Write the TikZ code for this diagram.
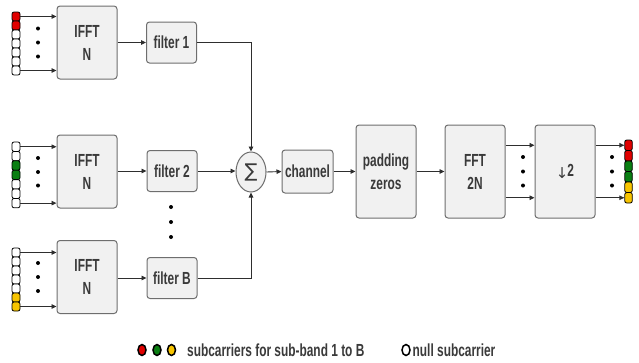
\documentclass[tikz,border=0pt]{standalone}
\usepackage{fontspec}
\setmainfont[FakeStretch=0.68]{Liberation Sans}
\newfontfamily\symfont{DejaVu Sans}
\usetikzlibrary{arrows.meta,shapes.geometric}
\definecolor{txt}{HTML}{3A3A3A}
\definecolor{bordc}{HTML}{6E6E6E}
\definecolor{boxf}{HTML}{F1F1F1}
\definecolor{linec}{HTML}{2E2E2E}
\definecolor{sred}{HTML}{E00000}
\definecolor{sgreen}{HTML}{0A7E12}
\definecolor{syellow}{HTML}{F7C400}
\begin{document}
\begin{tikzpicture}[x=1pt,y=-1pt,
  blk/.style={draw=bordc, fill=boxf, rounded corners=3pt, line width=1pt, text=txt,
    font=\fontsize{17.5}{23}\selectfont\bfseries, align=center, inner sep=0pt},
  arr/.style={-{Triangle[length=5pt,width=4.5pt]}, line width=0.9pt, draw=linec},
  cell/.style={draw=black, line width=0.8pt, rounded corners=2pt, minimum width=8pt,
    minimum height=9pt, inner sep=0pt},
  dotn/.style={circle, fill=black, inner sep=0pt, minimum size=4pt},
  leg/.style={ellipse, draw=black, line width=1.5pt, minimum width=8pt, minimum height=11pt, inner sep=0pt},
  legt/.style={anchor=west, text=txt, font=\fontsize{17.5}{19}\selectfont\bfseries, inner sep=0pt}]
\useasboundingbox (0,0) rectangle (639,362);

% IFFT blocks
\node[blk, minimum width=60pt, minimum height=73pt] (i1) at (87,42.5) {IFFT\\N};
\node[blk, minimum width=60pt, minimum height=73pt] (i2) at (87,171.5) {IFFT\\N};
\node[blk, minimum width=60pt, minimum height=73pt] (i3) at (87,277) {IFFT\\N};

% subcarrier columns
\foreach \c [count=\i] in {sred,sred,white,white,white,white,white}
  \node[cell, fill=\c] (a\i) at (16,{7.5+9*\i}) {};
\foreach \c [count=\i] in {white,white,sgreen,sgreen,white,white,white}
  \node[cell, fill=\c, minimum height=9.4pt] (b\i) at (16,{137.3+9.4*\i}) {};
\foreach \c [count=\i] in {white,white,white,white,white,syellow,syellow}
  \node[cell, fill=\c] (c\i) at (16,{243.5+9*\i}) {};

\draw[arr] (a1.east) -- (a1.east -| i1.west);
\draw[arr] (a7.east) -- (a7.east -| i1.west);
\draw[arr] (b1.east) -- (b1.east -| i2.west);
\draw[arr] (b7.east) -- (b7.east -| i2.west);
\draw[arr] (c1.east) -- (c1.east -| i3.west);
\draw[arr] (c7.east) -- (c7.east -| i3.west);

\foreach \y in {28.5,42.5,56.5} \node[dotn] at (38,\y) {};
\foreach \y in {158,172,185.5} \node[dotn] at (38,\y) {};
\foreach \y in {263,277,291} \node[dotn] at (38,\y) {};

% filters
\node[blk, minimum width=50pt, minimum height=41pt] (f1) at (171.5,42.5) {filter 1};
\node[blk, minimum width=50pt, minimum height=41pt] (f2) at (172,171) {filter 2};
\node[blk, minimum width=50pt, minimum height=41pt] (f3) at (172,278) {filter B};
\foreach \y in {207,222,237} \node[dotn] at (171,\y) {};

\draw[arr] (i1.east |- f1) -- (f1.west);
\draw[arr] (i2.east |- f2) -- (f2.west);
\draw[arr] (i3.east |- f3) -- (f3.west);

% sum
\node[ellipse, draw=bordc, fill=boxf, line width=1pt, minimum width=30pt, minimum height=40pt, inner sep=0pt,
  text=txt] (s) at (251,172) {\symfont\fontsize{19}{19}\selectfont ∑};
\draw[arr] (f1.east) -| (s.north);
\draw[arr] (f3.east) -| (s.south);
\draw[arr] (f2.east) -- (s.west |- f2);

% chain
\node[blk, minimum width=51pt, minimum height=43pt] (ch) at (307.5,171.5) {channel};
\node[blk, minimum width=60pt, minimum height=93pt] (pz) at (386,171.5) {padding\\zeros};
\node[blk, minimum width=60pt, minimum height=93pt] (fft) at (475,171.5) {FFT\\2N};
\node[blk, minimum width=60pt, minimum height=93pt] (dn) at (565,171.5) {\raisebox{-2pt}{\mdseries\symfont\fontsize{15}{15}\selectfont ↓}\kern-1pt 2};

\draw[arr] (s.east) -- (ch.west);
\draw[arr] (ch.east) -- (pz.west);
\draw[arr] (pz.east) -- (fft.west);

% output column
\foreach \c [count=\i] in {sred,sred,sgreen,sgreen,syellow,syellow}
  \node[cell, fill=\c, minimum width=7.5pt, minimum height=10.5pt] (o\i) at (628.5,{134.75+10.5*\i}) {};

\draw[arr] (fft.east |- o1) -- (dn.west |- o1);
\draw[arr] (fft.east |- o6) -- (dn.west |- o6);
\draw[arr] (dn.east |- o1) -- (o1.west);
\draw[arr] (dn.east |- o6) -- (o6.west);
\foreach \y in {157,171.5,185.5} \node[dotn] at (523,\y) {};
\foreach \y in {157,171.5,185.5} \node[dotn] at (612,\y) {};

% legend
\node[leg, fill=sred] (l1) at (142,350) {};
\node[leg, fill=sgreen] (l2) at (157,350) {};
\node[leg, fill=syellow] (l3) at (171.5,350) {};
\node[legt] (lt1) at (187,350) {subcarriers for sub-band 1 to B};
\node[leg, fill=white] (l4) at (406,350) {};
\node[legt] (lt2) at (412.5,350) {null subcarrier};
\end{tikzpicture}
\end{document}
